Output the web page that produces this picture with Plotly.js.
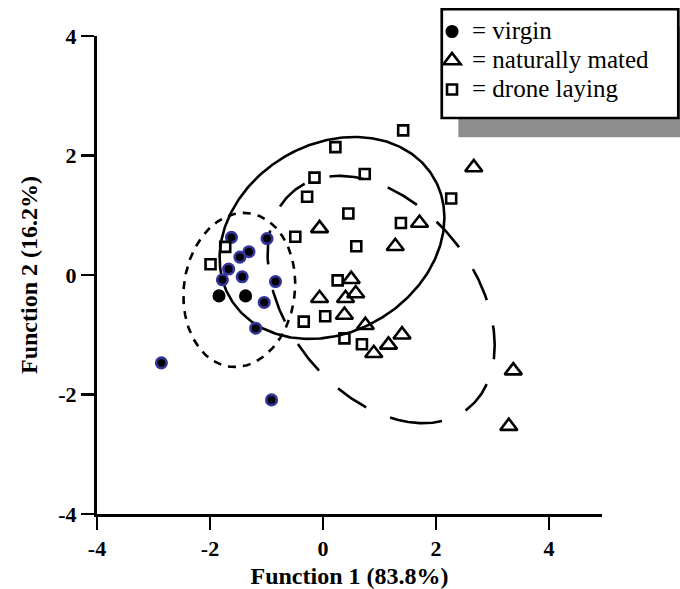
<!DOCTYPE html>
<html>
<head>
<meta charset="utf-8">
<script src="https://cdn.plot.ly/plotly-3.0.1.min.js"></script>
<style>html,body{margin:0;padding:0;background:#fff}#chart{width:680px;height:589px}</style>
</head>
<body>
<div id="chart"></div>
<script>
// ---- data ----
const groupNames = ['= virgin', '= naturally mated', '= drone laying'];

const virginX = [-1.84, -1.37, -1.62, -0.99, -1.31, -1.47, -1.67, -1.43, -1.78, -0.84, -1.04, -1.19, -2.86, -0.91];
const virginY = [-0.35, -0.35, 0.63, 0.61, 0.39, 0.30, 0.10, -0.03, -0.08, -0.11, -0.46, -0.89, -1.47, -2.09];

const matedX = [2.67, 1.71, -0.06, 1.28, 0.50, -0.06, 0.58, 0.40, 0.38, 0.75, 0.90, 1.16, 1.40, 3.37, 3.29];
const matedY = [1.80, 0.87, 0.78, 0.48, -0.07, -0.39, -0.31, -0.39, -0.67, -0.84, -1.31, -1.17, -1.00, -1.60, -2.53];

const droneX = [1.42, 0.22, -0.15, 0.74, -0.28, 2.27, 0.45, 1.38, -0.49, 0.59, -1.73, -1.99, -0.34, 0.26, 0.04, 0.38, 0.69];
const droneY = [2.42, 2.14, 1.63, 1.69, 1.31, 1.28, 1.03, 0.87, 0.64, 0.48, 0.47, 0.18, -0.78, -0.09, -0.69, -1.06, -1.16];

// group ellipses: virgin, drone laying, naturally mated
const ellipseCx  = [-1.48, 0.16, 1.03];
const ellipseCy  = [-0.25, 0.62, -0.41];
const ellipseRx  = [0.99, 1.99, 2.01];
const ellipseRy  = [1.29, 1.69, 2.07];
const ellipseRho = [0.08, 0.20, -0.37];

const xTickVals = [-4, -2, 0, 2, 4];
const xTickText = ['-4', '-2', '0', '2', '4'];
const yTickVals = [-4, -2, 0, 2, 4];
const yTickText = ['-4', '-2', '0', '2', '4'];

// ---- styles ----
const FONT = 'Liberation Serif, "Times New Roman", Times, serif';
const ringColor = '#34349e';
const virginOutline = virginX.map((_, i) => i < 2 ? 'black' : ringColor);
const ellipseDash = ['8px,7px', 'solid', '34px,26px'];
const ellipseStart = [0, 2.0, -1.33];

function ellipsePath(i, n) {
  const xs = [], ys = [];
  const s = Math.sqrt(1 - ellipseRho[i] * ellipseRho[i]);
  for (let k = 0; k <= n; k++) {
    const t = ellipseStart[i] + 2 * Math.PI * k / n;
    xs.push(ellipseCx[i] + ellipseRx[i] * Math.cos(t));
    ys.push(ellipseCy[i] + ellipseRy[i] * (ellipseRho[i] * Math.cos(t) + s * Math.sin(t)));
  }
  return {xs, ys};
}

const traces = [];
for (let i = 0; i < ellipseCx.length; i++) {
  const p = ellipsePath(i, 360);
  traces.push({
    x: p.xs, y: p.ys, type: 'scatter', mode: 'lines',
    line: {color: 'black', width: 2.6, dash: ellipseDash[i]},
    showlegend: false, hoverinfo: 'skip'
  });
}

const lbl = s => '<span style="font-size:25px">' + s + '</span>';

traces.push({
  x: virginX, y: virginY, type: 'scatter', mode: 'markers', name: lbl(groupNames[0]),
  marker: {symbol: 'circle', size: 10.5, opacity: 1, color: 'black', line: {color: virginOutline, width: 2.6}}
});
traces.push({
  x: matedX, y: matedY, type: 'scatter', mode: 'markers', name: lbl(groupNames[1]),
  marker: {symbol: 'triangle-up-open', size: 15, opacity: 1, color: 'black', line: {color: 'black', width: 2.6}}
});
traces.push({
  x: droneX, y: droneY, type: 'scatter', mode: 'markers', name: lbl(groupNames[2]),
  marker: {symbol: 'square-open', size: 10, opacity: 1, color: 'black', line: {color: 'black', width: 2.6}}
});

const axisCommon = {
  showline: true, linewidth: 3, linecolor: 'black',
  ticks: 'outside', ticklen: 13, tickwidth: 2.5, tickcolor: 'black',
  showgrid: false, zeroline: false,
  tickfont: {family: FONT, size: 22, weight: 'bold', color: 'black'}
};

const layout = {
  width: 680, height: 589,
  margin: {l: 97, r: 78, t: 36, b: 75, pad: 0},
  paper_bgcolor: 'white', plot_bgcolor: 'white',
  font: {family: FONT, color: 'black'},
  showlegend: true,
  legend: {
    x: 0.6634, xanchor: 'left', y: 1.0502, yanchor: 'top',
    bgcolor: 'rgba(0,0,0,0)', borderwidth: 0,
    font: {family: FONT, size: 20, color: 'black'}
  },
  xaxis: Object.assign({}, axisCommon, {
    range: [-4, 4.94], tickvals: xTickVals, ticktext: xTickText,
    title: {text: 'Function 1 (83.8%)', font: {family: FONT, size: 24, weight: 'bold', color: 'black'}}
  }),
  yaxis: Object.assign({}, axisCommon, {
    range: [-4, 4], tickvals: yTickVals, ticktext: yTickText,
    title: {text: 'Function 2 (16.2%)', font: {family: FONT, size: 24, weight: 'bold', color: 'black'}}
  }),
  shapes: [
    {type: 'rect', xref: 'paper', yref: 'paper', x0: 0.7156, x1: 1.19, y0: 0.788, y1: 1.02,
     fillcolor: '#8e8e8e', line: {width: 0}, layer: 'above'},
    {type: 'rect', xref: 'paper', yref: 'paper', x0: 0.6827, x1: 1.1511, y0: 0.8285, y1: 1.0560,
     fillcolor: 'white', line: {color: 'black', width: 2.7}, layer: 'above'}
  ]
};

Plotly.newPlot('chart', traces, layout, {displayModeBar: false, staticPlot: true});
</script>
</body>
</html>
